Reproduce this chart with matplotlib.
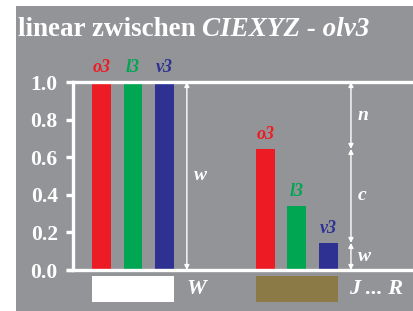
import matplotlib
matplotlib.use("Agg")
from matplotlib import pyplot as plt
from matplotlib.patches import Rectangle

plt.rcParams['font.family'] = ['Liberation Serif', 'DejaVu Serif']

# data
names = ['o3', 'l3', 'v3']
colors = ['#ED1C24', '#00A651', '#2E3192']
white_vals = [1.0, 1.0, 1.0]
jr_vals = [0.644, 0.34, 0.144]
x_white = [0, 1, 2]
x_jr = [5.2, 6.2, 7.2]
yticks = [0.0, 0.2, 0.4, 0.6, 0.8, 1.0]

gray = '#939498'

fig = plt.figure(figsize=(4.13, 3.11), dpi=100)
fig.patch.set_facecolor('white')
fig.patches.append(Rectangle((16/413, 0), 1 - 16/413, 1 - 6/311, transform=fig.transFigure,
                             facecolor=gray, edgecolor='none', zorder=-10))

# title: upright part then italic part right after it
t1 = fig.text(18/413, 1 - 36/311, 'linear zwischen ', color='white', fontsize=19.5,
              fontweight='bold', va='baseline', ha='left')
fig.canvas.draw()
bb = t1.get_window_extent(fig.canvas.get_renderer())
fig.text(bb.x1 / 413, 1 - 36/311, 'CIEXYZ - olv3', color='white', fontsize=19.5,
         fontweight='bold', style='italic', va='baseline', ha='left')

ax = fig.add_axes([73/413, 41/311, 1 - 73/413, 188/311])
ax.set_facecolor('none')
ax.set_xlim(-0.905, 9.89)
ax.set_ylim(0, 1)
for s in ax.spines.values():
    s.set_visible(False)

bw = 0.6
ax.bar(x_white, white_vals, width=bw, color=colors)
ax.bar(x_jr, jr_vals, width=bw, color=colors)

for xs, vals in [(x_white, white_vals), (x_jr, jr_vals)]:
    for x, v, n, c in zip(xs, vals, names, colors):
        ax.text(x, v + 0.055, n, color=c, fontsize=13, fontweight='bold',
                style='italic', ha='center', va='baseline')

# frame lines
ax.axvline(-0.905, color='white', lw=2.4, clip_on=False)
ax.axhline(1.0, color='white', lw=2.4, clip_on=False)
ax.axhline(0.0, xmin=-0.015, color='white', lw=2.4, clip_on=False)

ax.set_yticks(yticks)
ax.set_yticklabels([f'{t:.1f}' for t in yticks])
ax.tick_params(axis='y', length=5, width=2.4, color='white', labelcolor='white',
               labelsize=15.5, pad=6, direction='out')
for lab in ax.get_yticklabels():
    lab.set_fontweight('bold')
ax.set_xticks([])


def darrow(x, y0, y1):
    ax.annotate('', xy=(x, y0), xytext=(x, y1),
                arrowprops=dict(arrowstyle='<|-|>', color='white', lw=1.0,
                                mutation_scale=7, shrinkA=0, shrinkB=0))


darrow(2.71, 0, 1)
ax.text(2.95, 0.5, 'w', color='white', fontsize=14, fontweight='bold',
        style='italic', ha='left', va='center')

xa = 7.92
darrow(xa, jr_vals[0], 1)
darrow(xa, jr_vals[2], jr_vals[0])
darrow(xa, 0, jr_vals[2])
for ym, lab in [((1 + jr_vals[0]) / 2, 'n'), ((jr_vals[0] + jr_vals[2]) / 2, 'c'),
                (jr_vals[2] / 2, 'w')]:
    ax.text(xa + 0.22, ym, lab, color='white', fontsize=14,
            fontweight='bold', style='italic', ha='left', va='center')

# sample patches below the axis
ax.add_patch(Rectangle((-0.3, -0.17), 2.6, 0.138, facecolor='white',
                       edgecolor='none', clip_on=False))
ax.add_patch(Rectangle((4.9, -0.17), 2.6, 0.138, facecolor='#8B7A45',
                       edgecolor='none', clip_on=False))
ax.text(2.7, -0.1, 'W', color='white', fontsize=16, fontweight='bold',
        style='italic', ha='left', va='center', clip_on=False)
ax.text(7.85, -0.1, 'J ... R', color='white', fontsize=16, fontweight='bold',
        style='italic', ha='left', va='center', clip_on=False)

fig.savefig('out.png', dpi=100, facecolor=fig.get_facecolor())
